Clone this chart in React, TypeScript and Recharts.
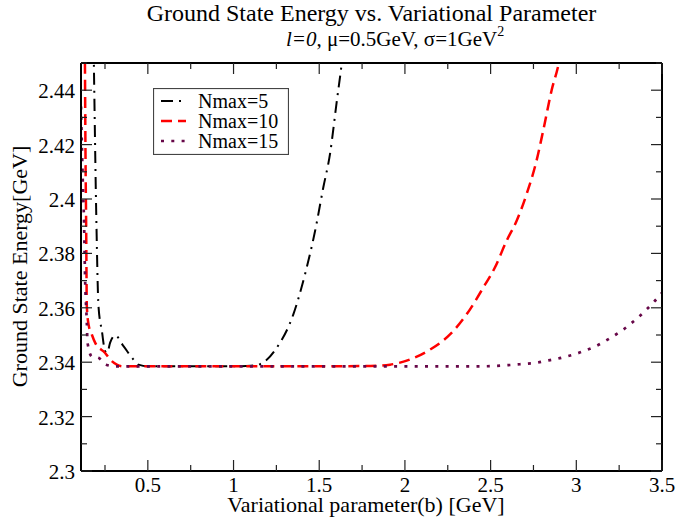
import React from 'react';
import { LineChart, Line, XAxis, YAxis, Legend } from 'recharts';

// variational parameter b [GeV] and ground state energy [GeV] per basis size
const bNmax5 = [0.11, 0.16, 0.185, 0.2, 0.212, 0.232, 0.251, 0.263, 0.28, 0.309, 0.358, 0.416, 0.445, 0.5, 0.7, 0.9, 1.0, 1.1, 1.155, 1.252, 1.349, 1.417, 1.476, 1.524, 1.563, 1.602, 1.633, 1.66];
const eNmax5 = [2.8, 2.56, 2.45, 2.391, 2.3606, 2.3514, 2.344, 2.3435, 2.3472, 2.3499, 2.3459, 2.341, 2.3391, 2.3385, 2.3385, 2.3385, 2.3385, 2.3387, 2.3393, 2.3453, 2.3576, 2.3723, 2.3883, 2.4043, 2.4166, 2.4357, 2.4506, 2.465];

const bNmax10 = [0.11, 0.125, 0.133, 0.136, 0.14, 0.144, 0.154, 0.173, 0.193, 0.251, 0.28, 0.319, 0.356, 0.5, 1.0, 1.5, 1.8, 1.913, 2.03, 2.146, 2.263, 2.36, 2.457, 2.525, 2.593, 2.652, 2.71, 2.768, 2.807, 2.856, 2.898, 2.93];
const eNmax10 = [2.7, 2.52, 2.45, 2.4185, 2.3908, 2.3606, 2.3539, 2.3502, 2.3471, 2.3434, 2.341, 2.3391, 2.3385, 2.3385, 2.3385, 2.3385, 2.3386, 2.3391, 2.341, 2.3446, 2.3502, 2.3576, 2.3674, 2.3748, 2.3846, 2.392, 2.4018, 2.4141, 2.4252, 2.44, 2.45, 2.462];

const bNmax15 = [0.11, 0.123, 0.127, 0.134, 0.144, 0.148, 0.173, 0.212, 0.257, 0.309, 0.5, 1.0, 1.5, 2.0, 2.457, 2.6, 2.7, 2.758, 2.822, 2.885, 2.943, 3.0, 3.056, 3.114, 3.167, 3.219, 3.27, 3.318, 3.365, 3.41, 3.452, 3.5];
const eNmax15 = [2.434, 2.401, 2.3937, 2.3705, 2.3546, 2.3472, 2.3421, 2.3416, 2.3391, 2.3385, 2.3385, 2.3385, 2.3385, 2.3385, 2.3385, 2.3389, 2.3394, 2.3397, 2.3405, 2.3412, 2.3421, 2.3431, 2.3444, 2.3459, 2.3477, 2.3497, 2.3518, 2.3542, 2.3567, 2.3594, 2.3621, 2.3655];

const xTicks = [0.25, 0.5, 0.75, 1, 1.25, 1.5, 1.75, 2, 2.25, 2.5, 2.75, 3, 3.25, 3.5];
const yTicks = [2.3, 2.31, 2.32, 2.33, 2.34, 2.35, 2.36, 2.37, 2.38, 2.39, 2.4, 2.41, 2.42, 2.43, 2.44, 2.45];

const toPoints = (bs: number[], es: number[]) => bs.map((b, i) => ({ b, e: es[i] }));

const series = [
  { name: 'Nmax=5', data: toPoints(bNmax5, eNmax5), color: '#000000', dash: '12 6 2 6', width: 2 },
  { name: 'Nmax=10', data: toPoints(bNmax10, eNmax10), color: '#ff0000', dash: '11 6', width: 2.5 },
  { name: 'Nmax=15', data: toPoints(bNmax15, eNmax15), color: '#670748', dash: '3 7.3', width: 2.7 },
];

const FONT = "'Liberation Serif', 'Times New Roman', serif";
const TICK = '#222';

const majorX = (v: number) => Math.abs(v * 2 - Math.round(v * 2)) < 1e-6;
const majorY = (v: number) => Math.round(v * 100) % 2 === 0;

// grace-style ticks pointing into the frame
const BottomTick = ({ x, y, payload }: any) => {
  const big = majorX(payload.value);
  return (
    <g>
      <line x1={x} x2={x} y1={y} y2={y - (big ? 11 : 6)} stroke={TICK} strokeWidth={1.2} />
      {big && (
        <text x={x} y={y + 21} textAnchor="middle" fontFamily={FONT} fontSize={21} fill="#000">
          {String(payload.value)}
        </text>
      )}
    </g>
  );
};

const TopTick = ({ x, y, payload }: any) => (
  <line x1={x} x2={x} y1={y} y2={y + (majorX(payload.value) ? 11 : 6)} stroke={TICK} strokeWidth={1.2} />
);

const LeftTick = ({ x, y, payload }: any) => {
  const big = majorY(payload.value);
  return (
    <g>
      <line x1={x} x2={x + (big ? 11 : 6)} y1={y} y2={y} stroke={TICK} strokeWidth={1.2} />
      {big && (
        <text x={x - 6} y={y + 8} textAnchor="end" fontFamily={FONT} fontSize={21} fill="#000">
          {String(payload.value)}
        </text>
      )}
    </g>
  );
};

const RightTick = ({ x, y, payload }: any) => (
  <line x1={x} x2={x - (majorY(payload.value) ? 11 : 6)} y1={y} y2={y} stroke={TICK} strokeWidth={1.2} />
);

const LegendBox = () => (
  <svg width={136} height={67} style={{ display: 'block' }}>
    <rect x={0.5} y={0.5} width={135} height={66} fill="#fff" stroke="#444" strokeWidth={1.2} />
    {series.map((s, i) => (
      <g key={s.name}>
        <line x1={8} x2={33} y1={13 + i * 20} y2={13 + i * 20} stroke={s.color} strokeWidth={s.width} strokeDasharray={s.dash} />
        <text x={45} y={20 + i * 20} fontFamily={FONT} fontSize={20} fill="#000">{s.name}</text>
      </g>
    ))}
  </svg>
);

export default function App() {
  return (
    <div style={{ position: 'absolute', left: 0, top: 0, width: 677, height: 523, background: '#fff', fontFamily: FONT }}>
      <LineChart width={677} height={523} margin={{ top: 62, right: 14, bottom: 22, left: 0 }}>
        <XAxis
          dataKey="b"
          type="number"
          domain={[0.11, 3.5]}
          allowDataOverflow
          ticks={xTicks}
          interval={0}
          height={30}
          tickSize={0}
          tickMargin={0}
          tickLine={false}
          axisLine={{ stroke: '#000', strokeWidth: 2 }}
          tick={BottomTick}
        />
        <XAxis
          xAxisId="top"
          orientation="top"
          dataKey="b"
          type="number"
          domain={[0.11, 3.5]}
          allowDataOverflow
          ticks={xTicks}
          interval={0}
          height={1}
          tickSize={0}
          tickMargin={0}
          tickLine={false}
          axisLine={{ stroke: '#000', strokeWidth: 2 }}
          tick={TopTick}
        />
        <YAxis
          type="number"
          domain={[2.3, 2.45]}
          allowDataOverflow
          ticks={yTicks}
          interval={0}
          width={81}
          tickSize={0}
          tickMargin={0}
          tickLine={false}
          axisLine={{ stroke: '#000', strokeWidth: 2 }}
          tick={LeftTick}
        />
        <YAxis
          yAxisId="right"
          orientation="right"
          type="number"
          domain={[2.3, 2.45]}
          allowDataOverflow
          ticks={yTicks}
          interval={0}
          width={1}
          tickSize={0}
          tickMargin={0}
          tickLine={false}
          axisLine={{ stroke: '#000', strokeWidth: 2 }}
          tick={RightTick}
        />
        <Legend
          layout="vertical"
          align="center"
          verticalAlign="middle"
          content={LegendBox}
          wrapperStyle={{ left: 153, top: 88, width: 136, height: 67 }}
        />
        {series.map((s) => (
          <Line
            key={s.name}
            name={s.name}
            data={s.data}
            dataKey="e"
            type="monotone"
            stroke={s.color}
            strokeWidth={s.width}
            strokeDasharray={s.dash}
            dot={false}
            activeDot={false}
            isAnimationActive={false}
          />
        ))}
      </LineChart>
      <svg width={677} height={523} style={{ position: 'absolute', left: 0, top: 0, pointerEvents: 'none' }}>
        <text x={371.5} y={21} textAnchor="middle" fontFamily={FONT} fontSize={24} fill="#000">
          Ground State Energy vs. Variational Parameter
        </text>
        <text x={286} y={46} fontFamily={FONT} fontSize={21} fill="#000">
          <tspan fontStyle="italic">l=0</tspan>, μ=0.5GeV, σ=1GeV
          <tspan dy={-10} fontSize={14}>2</tspan>
        </text>
        <text x={366} y={512} textAnchor="middle" fontFamily={FONT} fontSize={22} fill="#000">
          Variational parameter(b) [GeV]
        </text>
        <text transform="translate(27,266.5) rotate(-90)" textAnchor="middle" fontFamily={FONT} fontSize={22} fill="#000">
          Ground State Energy[GeV]
        </text>
      </svg>
    </div>
  );
}
